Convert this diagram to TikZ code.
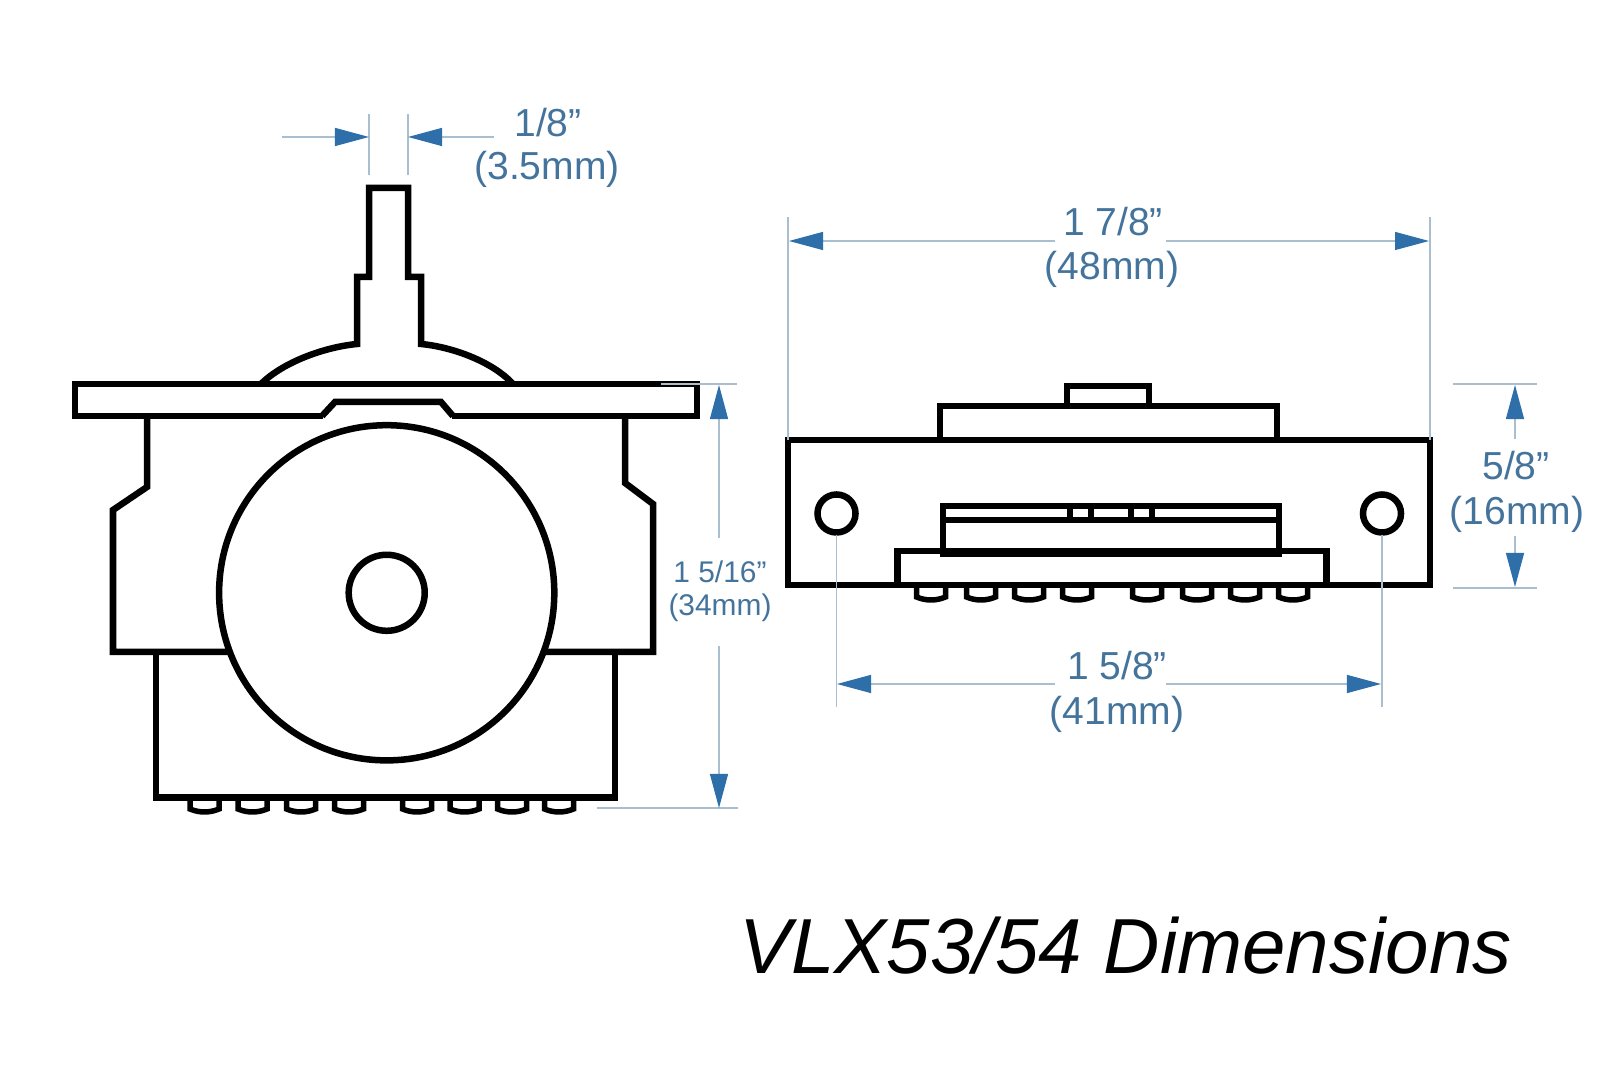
\documentclass[tikz,border=0pt]{standalone}
\usepackage{fontspec}
\setmainfont{Liberation Sans}
\usetikzlibrary{arrows.meta}
\definecolor{dimtext}{HTML}{44739B}
\definecolor{dimtip}{HTML}{2F6FA9}
\definecolor{dimrule}{HTML}{A9BECE}
\begin{document}
\begin{tikzpicture}[x=0.01cm,y=-0.01cm]
	\tikzstyle{outline}=[draw=black,line width=0.065cm,line join=miter]
	\tikzstyle{pin}=[draw=black,line width=0.055cm]
	\tikzstyle{guide}=[draw=dimrule,line width=0.013cm]
	\tikzstyle{dim}=[guide,-{Triangle[color=dimtip,length=0.34cm,width=0.18cm]}]
	\tikzstyle{biglabel}=[text=dimtext,inner sep=0pt,anchor=base,font=\fontsize{11.1}{13}\selectfont]
	\tikzstyle{smalllabel}=[text=dimtext,inner sep=0pt,anchor=base,font=\fontsize{8.5}{10}\selectfont]
	\useasboundingbox (0,0) rectangle (1600,1068);
	% front view
	\draw[outline] (261,384) .. controls (283,362) and (325,347) .. (357,344) -- (357,277) -- (369,277) -- (369,188) -- (408,188) -- (408,277) -- (421,277) -- (421,344) .. controls (453,347) and (493,362) .. (513,384);
	\draw[outline] (75,384) rectangle (697,416);
	\draw[draw=white,line width=0.08cm] (323,416) -- (452,416);
	\draw[outline] (322,416) -- (335,402) -- (441,402) -- (453,416);
	\draw[outline] (147,416) -- (147,487) -- (113,510) -- (113,652) -- (653,652) -- (653,504) -- (625,483) -- (625,416);
	\draw[outline] (156,652) |- (615,797.5) -- (615,652);
	\foreach \px in {187.5,235.5,284,332,400,447.5,495,542}
		\draw[pin] (\px+2.5,797) -- (\px+2.5,809) .. controls (\px+12,813) and (\px+22,813) .. (\px+31.5,809) -- (\px+31.5,797);
	\draw[outline,fill=white] (386.7,592.8) circle (1.675cm);
	\draw[outline] (386.7,592.8) circle (0.38cm);
	% side view
	\draw[outline] (788,440) rectangle (1430,585);
	\draw[outline] (940,440) |- (1277,406) -- (1277,440);
	\draw[outline] (1067,406) |- (1149,386) -- (1149,406);
	\draw[outline] (897.5,585) |- (1326.5,551) -- (1326.5,585);
	\draw[outline,fill=white] (943,553) |- (1279,506) -- (1279,553);
	\draw[outline] (943,520) -- (1279,520);
	\draw[draw=black,line width=0.09cm] (940,553) -- (1282,553);
	\foreach \sx in {1070,1091,1131,1152}
		\draw[outline] (\sx,506) -- (\sx,520);
	\draw[outline] (836.5,513.5) circle (0.19cm);
	\draw[outline] (1382,513.5) circle (0.19cm);
	\foreach \px in {914,964,1012,1060,1130,1180,1228,1276}
		\draw[pin] (\px+2.5,585) -- (\px+2.5,597) .. controls (\px+12,601) and (\px+22,601) .. (\px+31.5,597) -- (\px+31.5,585);
	% lever width
	\coordinate (lever-la) at (369,114);
	\coordinate (lever-lb) at (369,175);
	\coordinate (lever-ra) at (408,114);
	\coordinate (lever-rb) at (408,175);
	\coordinate (lever-lt) at (369,137);
	\coordinate (lever-rt) at (408,137);
	\coordinate (lever-lf) at (282,137);
	\coordinate (lever-rf) at (494,137);
	\draw[guide] (lever-la) -- (lever-lb);
	\draw[guide] (lever-ra) -- (lever-rb);
	\draw[dim] (lever-lf) -- (lever-lt);
	\draw[dim] (lever-rf) -- (lever-rt);
	\node[biglabel] (lever-in) at (548,137) {1/8”};
	\node[biglabel] (lever-mm) at (547,180) {(3.5mm)};
	% height
	\coordinate (height-ta) at (661,384);
	\coordinate (height-tb) at (737,384);
	\coordinate (height-ba) at (597,808);
	\coordinate (height-bb) at (738,808);
	\coordinate (height-t) at (719,385);
	\coordinate (height-tf) at (719,538);
	\coordinate (height-b) at (719,808);
	\coordinate (height-bf) at (719,646);
	\draw[guide] (height-ta) -- (height-tb);
	\draw[guide] (height-ba) -- (height-bb);
	\draw[dim] (height-tf) -- (height-t);
	\draw[dim] (height-bf) -- (height-b);
	\node[smalllabel] (height-in) at (720,583) {1 5/16”};
	\node[smalllabel] (height-mm) at (720,616) {(34mm)};
	% overall width
	\coordinate (wide-la) at (788,217);
	\coordinate (wide-lb) at (788,440);
	\coordinate (wide-ra) at (1430,217);
	\coordinate (wide-rb) at (1430,440);
	\coordinate (wide-l) at (789,241);
	\coordinate (wide-r) at (1429,241);
	\coordinate (wide-lf) at (1055,241);
	\coordinate (wide-rf) at (1166,241);
	\draw[guide] (wide-la) -- (wide-lb);
	\draw[guide] (wide-ra) -- (wide-rb);
	\draw[dim] (wide-lf) -- (wide-l);
	\draw[dim] (wide-rf) -- (wide-r);
	\node[biglabel] (wide-in) at (1113,236) {1 7/8”};
	\node[biglabel] (wide-mm) at (1112,280) {(48mm)};
	% depth
	\coordinate (deep-ta) at (1453,384);
	\coordinate (deep-tb) at (1537,384);
	\coordinate (deep-ba) at (1453,588);
	\coordinate (deep-bb) at (1537,588);
	\coordinate (deep-t) at (1515,385);
	\coordinate (deep-tf) at (1515,439);
	\coordinate (deep-b) at (1515,587);
	\coordinate (deep-bf) at (1515,536);
	\draw[guide] (deep-ta) -- (deep-tb);
	\draw[guide] (deep-ba) -- (deep-bb);
	\draw[dim] (deep-tf) -- (deep-t);
	\draw[dim] (deep-bf) -- (deep-b);
	\node[biglabel] (deep-in) at (1516,480) {5/8”};
	\node[biglabel] (deep-mm) at (1517,525) {(16mm)};
	% hole spacing
	\coordinate (hole-la) at (836.5,535);
	\coordinate (hole-lb) at (836.5,707);
	\coordinate (hole-ra) at (1382,535);
	\coordinate (hole-rb) at (1382,707);
	\coordinate (hole-l) at (837,684);
	\coordinate (hole-r) at (1381,684);
	\coordinate (hole-lf) at (1055,684);
	\coordinate (hole-rf) at (1166,684);
	\draw[guide] (hole-la) -- (hole-lb);
	\draw[guide] (hole-ra) -- (hole-rb);
	\draw[dim] (hole-lf) -- (hole-l);
	\draw[dim] (hole-rf) -- (hole-r);
	\node[biglabel] (hole-in) at (1117,680) {1 5/8"};
	\node[biglabel] (hole-mm) at (1117,725) {(41mm)};
	% title
	\node[inner sep=0pt,anchor=base,font=\fontsize{22.2}{26}\selectfont\itshape] (title) at (1125.5,974) {VLX53/54 Dimensions};
\end{tikzpicture}
\end{document}
